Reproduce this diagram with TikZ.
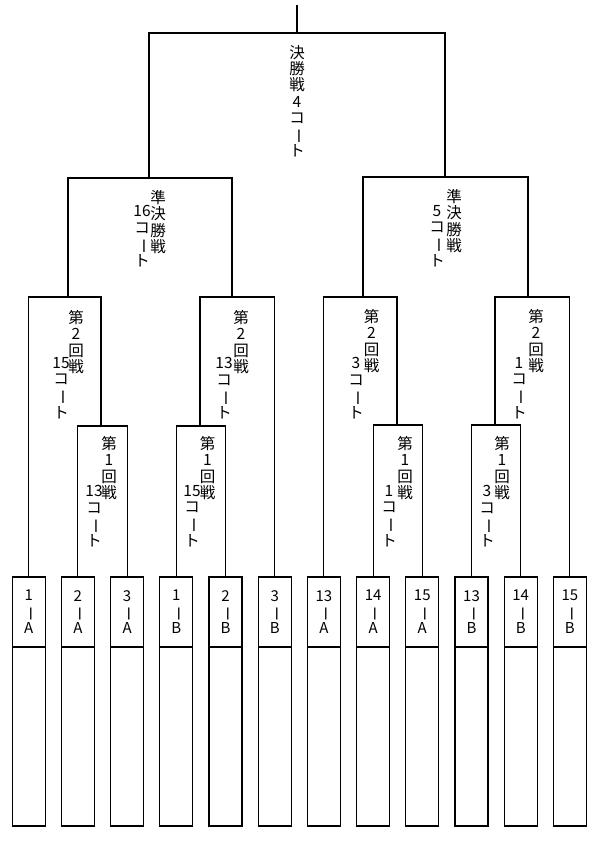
\documentclass[tikz,border=0pt]{standalone}
\usepackage{fontspec}
\usepackage{graphicx}
\usepackage{tikz}
\usetikzlibrary{positioning}
\newfontfamily\jpfont{Noto Sans CJK JP}
\newcommand{\chouon}{\rotatebox[origin=c]{-90}{ー}}

\begin{document}
\begin{tikzpicture}[x=1pt, y=-1pt, line width=1.1pt,
	tate/.style={font=\jpfont\fontsize{15.5}{16.2}\selectfont, align=center, inner sep=0pt, anchor=north},
	namebox/.style={draw, minimum width=33pt, minimum height=70pt, inner sep=0pt, outer sep=0pt,
		font=\jpfont\fontsize{15}{16.4}\selectfont, align=center},
	blankbox/.style={draw, minimum width=33pt, minimum height=179pt, outer sep=0pt}]
\useasboundingbox (0,0) rectangle (606,845);
% teams
\node[namebox] (b1) at (28.7,612) {1\\\chouon\\A};
\node[namebox] (b2) at (77.9,612) {2\\\chouon\\A};
\node[namebox] (b3) at (127.1,612) {3\\\chouon\\A};
\node[namebox] (b4) at (176.3,612) {1\\\chouon\\B};
\node[namebox] (b5) at (225.5,612) {2\\\chouon\\B};
\node[namebox] (b6) at (274.7,612) {3\\\chouon\\B};
\node[namebox] (b7) at (323.9,612) {13\\\chouon\\A};
\node[namebox] (b8) at (373.1,612) {14\\\chouon\\A};
\node[namebox] (b9) at (422.3,612) {15\\\chouon\\A};
\node[namebox] (b10) at (471.5,612) {13\\\chouon\\B};
\node[namebox] (b11) at (520.7,612) {14\\\chouon\\B};
\node[namebox] (b12) at (569.9,612) {15\\\chouon\\B};
\node[blankbox, below=0pt of b1] (c1) {};
\node[blankbox, below=0pt of b2] (c2) {};
\node[blankbox, below=0pt of b3] (c3) {};
\node[blankbox, below=0pt of b4] (c4) {};
\node[blankbox, below=0pt of b5] (c5) {};
\node[blankbox, below=0pt of b6] (c6) {};
\node[blankbox, below=0pt of b7] (c7) {};
\node[blankbox, below=0pt of b8] (c8) {};
\node[blankbox, below=0pt of b9] (c9) {};
\node[blankbox, below=0pt of b10] (c10) {};
\node[blankbox, below=0pt of b11] (c11) {};
\node[blankbox, below=0pt of b12] (c12) {};
% bracket joints
\coordinate (top) at (297,5);
\coordinate (fin) at (297,33);
\coordinate (sf1) at (149,178);
\coordinate (sf2) at (445,177);
\coordinate (rd2a) at (68,297);
\coordinate (rd2b) at (232,297);
\coordinate (rd2c) at (363,297);
\coordinate (rd2d) at (528,297);
\coordinate (rd1a) at (101,426);
\coordinate (rd1b) at (200,426);
\coordinate (rd1c) at (397,425);
\coordinate (rd1d) at (495,425);
\draw (top) -- (fin);
\draw (sf1) |- (fin) -| (sf2);
\draw (rd2a) |- (sf1) -| (rd2b);
\draw (rd2c) |- (sf2) -| (rd2d);
\draw (b1.north) |- (rd2a) -| (rd1a);
\draw (rd1b) |- (rd2b) -| (b6.north);
\draw (b7.north) |- (rd2c) -| (rd1c);
\draw (rd1d) |- (rd2d) -| (b12.north);
\draw (b2.north) |- (rd1a) -| (b3.north);
\draw (b4.north) |- (rd1b) -| (b5.north);
\draw (b8.north) |- (rd1c) -| (b9.north);
\draw (b10.north) |- (rd1d) -| (b11.north);
% court labels
\node[tate] (lfin) at (297,45) {決\\勝\\戦\\4\\コ\\\chouon\\ト};
\node[tate] (lsf1) at (158,190) {準\\決\\勝\\戦};
\node[tate] (lsf1c) at (142,205) {16\\コ\\\chouon\\ト};
\node[tate] (lsf2) at (454,189) {準\\決\\勝\\戦};
\node[tate] (lsf2c) at (437,205) {5\\コ\\\chouon\\ト};
\node[tate] (lrd2a) at (76,310) {第\\2\\回\\戦};
\node[tate] (lrd2ac) at (61,357) {15\\コ\\\chouon\\ト};
\node[tate] (lrd2b) at (241,310) {第\\2\\回\\戦};
\node[tate] (lrd2bc) at (224,357) {13\\コ\\\chouon\\ト};
\node[tate] (lrd2c) at (371.5,309) {第\\2\\回\\戦};
\node[tate] (lrd2cc) at (356,357) {3\\コ\\\chouon\\ト};
\node[tate] (lrd2d) at (536,309) {第\\2\\回\\戦};
\node[tate] (lrd2dc) at (519,357) {1\\コ\\\chouon\\ト};
\node[tate] (lrd1a) at (109,436) {第\\1\\回\\戦};
\node[tate] (lrd1ac) at (94,485) {13\\コ\\\chouon\\ト};
\node[tate] (lrd1b) at (207.5,436) {第\\1\\回\\戦};
\node[tate] (lrd1bc) at (192,485) {15\\コ\\\chouon\\ト};
\node[tate] (lrd1c) at (405,436) {第\\1\\回\\戦};
\node[tate] (lrd1cc) at (389,485) {1\\コ\\\chouon\\ト};
\node[tate] (lrd1d) at (502,436) {第\\1\\回\\戦};
\node[tate] (lrd1dc) at (487,485) {3\\コ\\\chouon\\ト};
\end{tikzpicture}
\end{document}
